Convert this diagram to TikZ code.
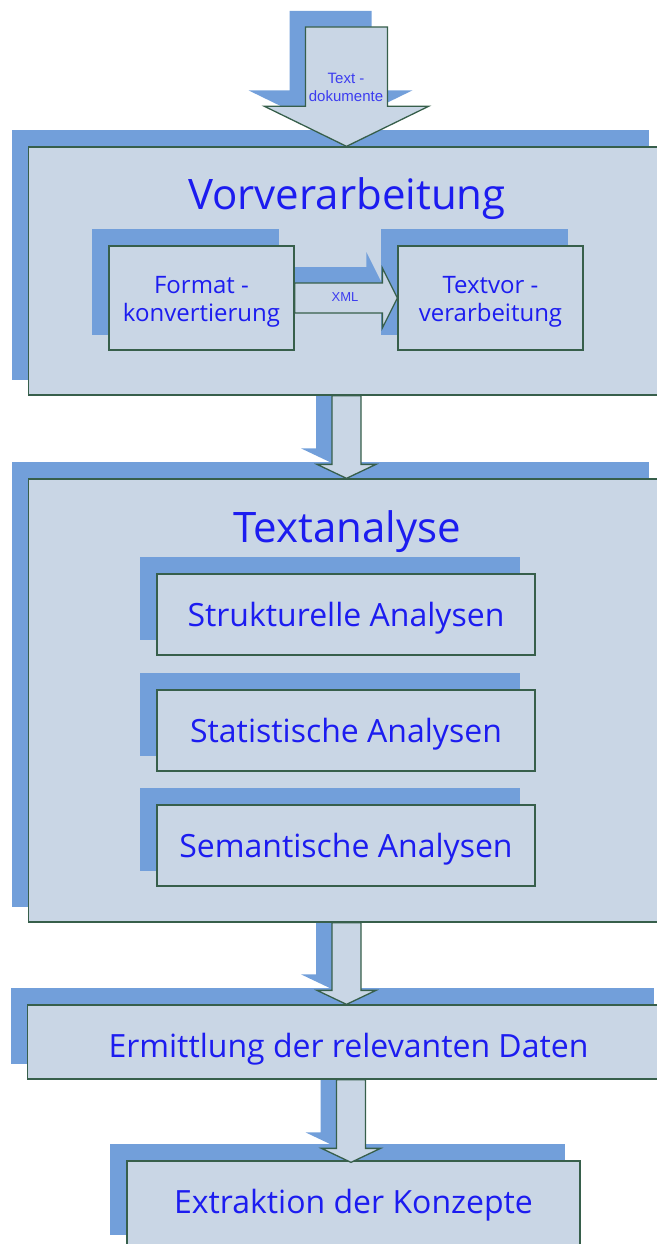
\documentclass[tikz,border=0pt]{standalone}
\usepackage{fontspec}
\setmainfont{Open Sans}
\newfontfamily\labelfont{Liberation Sans}
\usetikzlibrary{calc}

\definecolor{boxfill}{RGB}{201,214,229}
\definecolor{shadowblue}{RGB}{114,159,218}
\definecolor{edgegreen}{RGB}{55,95,75}
\definecolor{inkblue}{RGB}{28,28,240}
\definecolor{smallblue}{RGB}{60,60,240}

\pgfdeclarelayer{outershadow}
\pgfdeclarelayer{outerbody}
\pgfdeclarelayer{innershadow}
\pgfdeclarelayer{innerbody}
\pgfsetlayers{outershadow,outerbody,innershadow,innerbody,main}

% flat drop shadow behind a rectangular node
\newcommand\dropshadow[1]{\fill[shadowblue] ([shift={(-16,-16)}]#1.north west) rectangle ([shift={(-16,-16)}]#1.south east);}

% downward block arrow: #1 style, #2 shaft start, #3 tip, #4 half shaft, #5 half head, #6 head length
\newcommand\vblock[6]{\path[#1] ($(#2 -| #3)+(-#4,0)$) -- ($(#3)+(-#4,-#6)$) -- ($(#3)+(-#5,-#6)$) -- (#3)
  -- ($(#3)+(#5,-#6)$) -- ($(#3)+(#4,-#6)$) -- ($(#2 -| #3)+(#4,0)$) -- cycle;}

% rightward block arrow: #1 style, #2 shaft start, #3 tip, #4 half shaft, #5 half head, #6 head length
\newcommand\hblock[6]{\path[#1] ($(#2 |- #3)+(0,-#4)$) -- ($(#3)+(-#6,-#4)$) -- ($(#3)+(-#6,-#5)$) -- (#3)
  -- ($(#3)+(-#6,#5)$) -- ($(#3)+(-#6,#4)$) -- ($(#2 |- #3)+(0,#4)$) -- cycle;}

\begin{document}
\begin{tikzpicture}[x=1pt,y=-1pt,
  panel/.style={draw=edgegreen, fill=boxfill, line width=1.3pt, inner sep=0pt, text=inkblue},
  paneltext/.style={font=\fontsize{32}{32}\selectfont, text height=24pt, text depth=0pt},
  heading/.style={text=inkblue, font=\fontsize{42}{42}\selectfont, inner sep=0pt, anchor=base},
  subtext/.style={font=\fontsize{24}{28}\selectfont, align=center},
  arrowbody/.style={fill=boxfill, draw=edgegreen, line width=1.3pt, line join=miter},
  arrowshadow/.style={fill=shadowblue, transform canvas={shift={(-16pt,16pt)}}},
  smalllabel/.style={text=smallblue, inner sep=0pt, align=center}]

\useasboundingbox (0,0) rectangle (656,1244);

% ---------- main stages ----------
\begin{pgfonlayer}{outerbody}
\node[panel, minimum width=636pt, minimum height=248pt] (vor) at (346.5,271) {};
\node[panel, minimum width=636pt, minimum height=443pt] (ta) at (346.5,700.5) {};
\node[panel, paneltext, text height=30pt, minimum width=642pt, minimum height=74pt] (erm) at (348.5,1042)
  {Ermittlung der relevanten Daten};
\node[panel, paneltext, text height=15pt, minimum width=453pt, minimum height=89pt] (ex) at (353.5,1205.5)
  {Extraktion der Konzepte};
\node[heading] (vortitle) at (347,209) {Vorverarbeitung};
\node[heading] (tatitle) at (347,542) {Textanalyse};
\end{pgfonlayer}

% arrow tips and the free end of the input arrow
\coordinate (src) at (347,27);
\coordinate (t2) at (ta.south |- erm.north);
\coordinate (t3) at ($(ex.north)+(-2.5,2)$);

\begin{pgfonlayer}{outershadow}
\dropshadow{vor}
\dropshadow{ta}
\dropshadow{erm}
\dropshadow{ex}
\vblock{arrowshadow}{src}{vor.north}{41}{82}{40}
\vblock{arrowshadow}{vor.south}{ta.north}{14.5}{29.5}{14}
\vblock{arrowshadow}{ta.south}{t2}{14.5}{29.5}{14}
\vblock{arrowshadow}{erm.south}{t3}{14.5}{29.5}{14}
\end{pgfonlayer}

% ---------- sub steps ----------
\begin{pgfonlayer}{innerbody}
\node[panel, subtext, minimum width=185pt, minimum height=104pt] (fk) at (201.5,298) {\rule{0pt}{25pt}Format -\\konvertierung};
\node[panel, subtext, minimum width=185pt, minimum height=104pt] (tv) at (490.5,298) {\rule{0pt}{25pt}Textvor -\\verarbeitung};
\node[panel, paneltext, minimum width=378pt, minimum height=81pt] (sa1) at (346,614.5) {Strukturelle Analysen};
\node[panel, paneltext, minimum width=378pt, minimum height=81pt] (sa2) at (346,730.5) {Statistische Analysen};
\node[panel, paneltext, minimum width=378pt, minimum height=81pt] (sa3) at (346,845.5) {Semantische Analysen};
\end{pgfonlayer}

\begin{pgfonlayer}{innershadow}
\vblock{arrowbody}{src}{vor.north}{41}{82}{40}
\vblock{arrowbody}{vor.south}{ta.north}{14.5}{29.5}{14}
\vblock{arrowbody}{ta.south}{t2}{14.5}{29.5}{14}
\vblock{arrowbody}{erm.south}{t3}{14.5}{29.5}{14}
\dropshadow{fk}
\dropshadow{tv}
\dropshadow{sa1}
\dropshadow{sa2}
\dropshadow{sa3}
\hblock{arrowshadow}{fk.east}{tv.west}{15}{30}{15}
\end{pgfonlayer}

\hblock{arrowbody}{fk.east}{tv.west}{15}{30}{15}

% ---------- labels on the arrows ----------
\node[smalllabel, font=\labelfont\fontsize{15}{18}\selectfont] (srclabel) at (346,87) {Text -\\dokumente};
\node[smalllabel, font=\labelfont\fontsize{13}{13}\selectfont] (xmllabel) at (345,297) {XML};
\end{tikzpicture}
\end{document}
